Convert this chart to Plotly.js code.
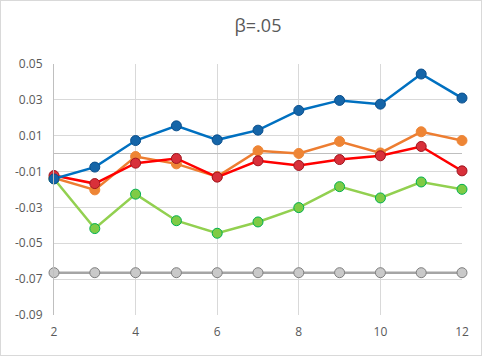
<!DOCTYPE html>
<html><head><meta charset="utf-8">
<script src="https://cdn.plot.ly/plotly-3.0.1.min.js"></script>
<style>
html,body{margin:0;padding:0;background:#fff;}
#wrap{width:482px;height:356px;box-sizing:border-box;border:1px solid #d9d9d9;}
#chart{width:480px;height:354px;}
</style></head><body>
<div id="wrap"><div id="chart"></div></div>
<script>
const xs = [2,3,4,5,6,7,8,9,10,11,12];
const blue   = [-0.0141,-0.0075,0.0073,0.0155,0.0077,0.0131,0.0241,0.0297,0.0276,0.0444,0.0310];
const orange = [-0.0135,-0.0202,-0.0016,-0.0057,-0.0128,0.0016,0.0001,0.0068,0.0004,0.0122,0.0073];
const red    = [-0.0122,-0.0167,-0.0053,-0.0027,-0.0131,-0.0040,-0.0066,-0.0033,-0.0012,0.0040,-0.0096];
const green  = [-0.0140,-0.0418,-0.0226,-0.0374,-0.0444,-0.0381,-0.0301,-0.0184,-0.0247,-0.0158,-0.0199];
const gray   = [-0.0664,-0.0664,-0.0664,-0.0664,-0.0664,-0.0664,-0.0664,-0.0664,-0.0664,-0.0664,-0.0664];
const yTickVals = [-0.09,-0.07,-0.05,-0.03,-0.01,0.01,0.03,0.05];
const yTickText = ['-0.09','-0.07','-0.05','-0.03','-0.01','0.01','0.03','0.05'];
const xTickVals = [2,4,6,8,10,12];

function tr(y, lc, mfill, mline){
  return {x: xs, y: y, type:'scatter', mode:'lines+markers', cliponaxis:false,
    line:{color:lc, width:2.5},
    marker:{size:10, color:mfill, line:{color:mline, width:1}},
    hoverinfo:'none'};
}
const data = [
  tr(gray,  '#A5A5A5', '#C9C9C9', '#7F7F7F'),
  tr(green, '#92D050', '#7FCB45', '#00B050'),
  tr(orange,'#ED7D31', '#EE8535', '#EE8535'),
  tr(red,   '#FF0000', '#D8303A', '#A0141E'),
  tr(blue,  '#0070C0', '#1565A8', '#0B4F8C')
];
const font = {family:'"Open Sans", "Noto Sans", sans-serif', color:'#595959', size:12};
const layout = {
  width:480, height:354,
  margin:{l:53, r:19, t:63, b:40},
  paper_bgcolor:'#fff', plot_bgcolor:'#fff',
  showlegend:false,
  font: font,
  title:{text:'β=.05', x:0.5, xref:'paper', y:0.93, yanchor:'middle',
         font:{family:'"Open Sans", "Noto Sans", sans-serif', size:18, color:'#595959'}},
  xaxis:{range:[2,12], tickvals:xTickVals, showgrid:true, gridcolor:'#D9D9D9', gridwidth:1,
         zeroline:false, showline:false, ticks:'', ticklabelstandoff:8, fixedrange:true},
  yaxis:{range:[-0.09,0.05], tickvals:yTickVals, ticktext:yTickText, showgrid:true,
         gridcolor:'#D9D9D9', gridwidth:1, zeroline:true, zerolinecolor:'#BFBFBF', zerolinewidth:1,
         showline:true, linecolor:'#BFBFBF', linewidth:1, ticks:'', ticklabelstandoff:8, fixedrange:true}
};
Plotly.newPlot('chart', data, layout, {displayModeBar:false, staticPlot:true});
</script>
</body></html>
